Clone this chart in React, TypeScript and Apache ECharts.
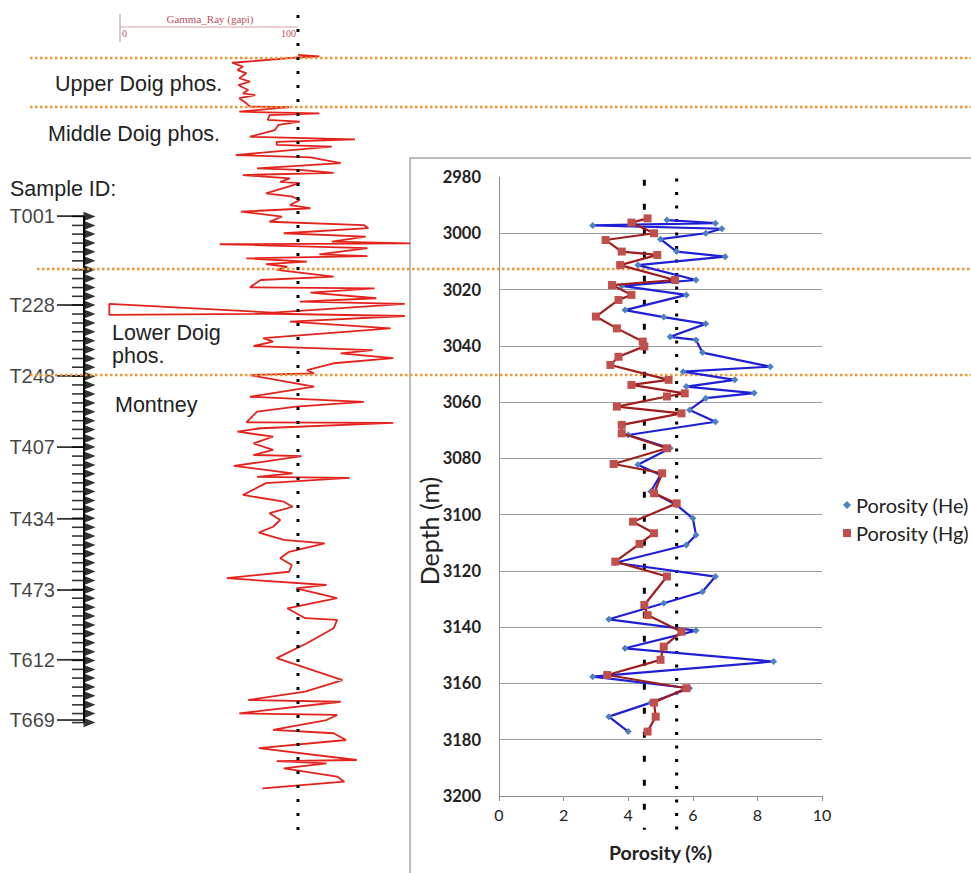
import React, { useEffect, useRef } from "react";
import * as echarts from "echarts";

// ---------- data ----------
const porosityTicks = [0, 2, 4, 6, 8, 10];
const depthGridLines = [3000, 3020, 3040, 3060, 3080, 3100, 3120, 3140, 3160, 3180];

const heDepths = [2995.3, 2996.4, 2997.2, 2998.4, 3000, 3002.1, 3006.5, 3008.3, 3011.3, 3016.6, 3018.7, 3021.9, 3027.3, 3029.8, 3032.2, 3036.8, 3037.9, 3042.4, 3047.4, 3049.2, 3052.1, 3054.5, 3056.8, 3058.6, 3062.8, 3067, 3071.7, 3076.4, 3082.3, 3085.9, 3091.8, 3096.6, 3101.3, 3107.2, 3110.8, 3117.1, 3122, 3127.4, 3131.5, 3137.2, 3141.2, 3147.5, 3152.2, 3157.6, 3161.7, 3166.8, 3171.8, 3177.1];
const heValues = [5.2, 6.7, 2.9, 6.9, 6.4, 5.0, 5.5, 7.0, 4.3, 6.1, 3.8, 5.8, 3.9, 5.1, 6.4, 5.3, 6.1, 6.3, 8.4, 5.7, 7.3, 5.8, 7.9, 6.4, 5.9, 6.7, 4.0, 5.3, 4.3, 5.0, 4.7, 5.5, 6.0, 6.1, 5.8, 3.6, 6.7, 6.3, 5.1, 3.4, 6.1, 3.9, 8.5, 2.9, 5.9, 4.7, 3.4, 4.0];

const hgDepths = [2994.7, 2996.2, 3000, 3002.4, 3006.5, 3007.7, 3011.3, 3016.6, 3018.4, 3021.9, 3023.7, 3029.6, 3033.8, 3038.5, 3040.2, 3043.9, 3046.8, 3052.1, 3053.9, 3056.9, 3058, 3061.6, 3064, 3068.1, 3071.1, 3076.4, 3082, 3085.3, 3092.4, 3096, 3102.5, 3106.6, 3110.4, 3116.7, 3122, 3132.1, 3135.7, 3141.6, 3146.9, 3151.6, 3157, 3161.7, 3166.8, 3171.8, 3177.1];
const hgValues = [4.6, 4.1, 4.8, 3.3, 3.8, 4.9, 3.75, 5.45, 3.5, 4.1, 3.7, 3.0, 3.65, 4.45, 4.5, 3.7, 3.45, 5.25, 4.1, 5.75, 5.2, 3.65, 5.65, 3.8, 3.8, 5.2, 3.55, 5.05, 4.8, 5.5, 4.15, 4.8, 4.35, 3.6, 5.2, 4.5, 4.6, 5.65, 5.1, 5.0, 3.35, 5.8, 4.8, 4.85, 4.6];

const gammaDepths = [2936.6, 2937.1, 2937.5, 2939.4, 2940.8, 2942, 2943.1, 2944.9, 2946.1, 2947.3, 2949.1, 2950.3, 2950.9, 2952, 2953.8, 2955, 2955.2, 2956.8, 2957.4, 2958, 2959.7, 2960.3, 2961.5, 2963.3, 2965.7, 2966.6, 2967.5, 2968.6, 2969.2, 2972.2, 2973, 2975.1, 2976.9, 2977.5, 2978.5, 2979.3, 2980.5, 2981.7, 2982.2, 2985.8, 2987, 2988.2, 2990, 2991.1, 2992.3, 2994.1, 2995.9, 2997.1, 2998.2, 3000, 3001.2, 3003, 3003.6, 3003.9, 3005.3, 3007.5, 3008.1, 3008.9, 3010.1, 3011, 3011.9, 3013, 3015.4, 3016.6, 3019.2, 3019.6, 3021.1, 3023.1, 3024.3, 3025.1, 3028.2, 3025.1, 3029, 3028.6, 3029.4, 3031.4, 3033.8, 3037.3, 3038.5, 3040.1, 3041.5, 3042.7, 3044.4, 3046.2, 3048.6, 3049.8, 3050.4, 3054.5, 3058.1, 3059.9, 3061.6, 3063.4, 3067.2, 3067.4, 3069.3, 3070.5, 3072.3, 3074.7, 3077, 3078.8, 3079.2, 3082.7, 3085.3, 3086.6, 3086.9, 3088.8, 3093, 3095.4, 3097.2, 3099.5, 3101.9, 3104.3, 3106.4, 3109, 3110.2, 3113.2, 3115.5, 3117.9, 3120.3, 3122.6, 3125, 3126.2, 3129.7, 3133.3, 3136.8, 3137.4, 3140.4, 3145.7, 3151, 3158.8, 3162.9, 3165.9, 3166.5, 3170.6, 3171.2, 3173, 3176.5, 3177.7, 3180.1, 3183, 3187.2, 3187.6, 3188.4, 3190.2, 3193.1, 3194.9, 3197.3];
const gammaValues = [100, 112, 100, 63, 69, 66, 71, 67, 73, 66.5, 72, 69, 76, 67, 71, 73, 95, 67, 112, 84, 83, 101, 89, 87, 73, 132, 88, 88, 119, 65, 107, 124, 77, 101, 120, 69, 95.5, 90, 101, 82, 97, 101, 95.5, 107, 68, 91, 84, 137, 139.5, 92, 138, 119, 163, 56, 139, 112, 139, 71, 105, 82, 94, 88, 120, 79, 73, 143, 107, 144, 101, 160, 86, -6, -6, 86, 160, 95.5, 152, 80.5, 86, 75, 142, 124, 153.5, 120, 105, 109, 73, 109, 73, 137, 99, 77, 71, 153.5, 79, 66, 86, 75, 86, 75, 102, 64, 97, 77, 129, 82, 69, 92, 97, 84, 90, 86, 78, 92, 115, 95, 90, 96.5, 95, 60, 116, 99, 122, 94, 104, 122, 120, 105, 88, 125, 104, 72, 124, 67, 122, 116, 86, 120, 127, 78, 133, 88, 116, 92, 122, 126, 80];

const sampleDepths = [2994, 2997.2, 3000.3, 3003.5, 3006.6, 3009.8, 3013, 3016.1, 3019.3, 3022.4, 3025.5, 3028.7, 3031.9, 3035, 3038.2, 3041.3, 3044.5, 3047.6, 3050.8, 3053.9, 3057.1, 3060.3, 3063.4, 3066.6, 3069.7, 3072.9, 3076, 3079.2, 3082.4, 3085.5, 3088.7, 3091.8, 3095, 3098.1, 3101.3, 3104.5, 3107.6, 3110.8, 3113.9, 3117.1, 3120.2, 3123.4, 3126.6, 3129.7, 3132.9, 3136, 3139.2, 3142.3, 3145.5, 3148.7, 3151.8, 3155, 3158.1, 3161.3, 3164.4, 3167.6, 3170.7, 3173.9];
const sampleLabels = ["T001", "T228", "T248", "T407", "T434", "T473", "T612", "T669"];
const sampleLabelDepths = [2993.9, 3025.5, 3050.7, 3076, 3101.5, 3126.8, 3151.6, 3173];

const boundaryDepths = [2937.7, 2955.1, 3012.7, 3050.4];
const heCutoff = 5.5;
const hgCutoff = 4.5;
const gammaCutoff = 100;
const gammaScaleTicks = ["0", "100"];

// ---------- layout ----------
const pxPerM = 619 / 220;
const pageDepthMin = 2920;
const pageTop = 177 - (2980 - pageDepthMin) * pxPerM;
const pageHeight = 796 - pageTop;
const gammaPxPerUnit = 1.78;
const gammaMin = -10;
const gammaMax = 180;
const boundaryStartX = [30, 30, 37, 30];

export default function App() {
  const ref = useRef<HTMLDivElement>(null);
  useEffect(() => {
    if (!ref.current) return;
    const chart = echarts.init(ref.current, undefined, { renderer: "svg" });
    const sans = '"Liberation Sans", Arial, sans-serif';
    const cal = 'Lato, "Open Sans", sans-serif';
    const serif = '"Liberation Serif", serif';
    const pageAxisY = (gi: number) => ({
      gridIndex: gi, type: "value", min: pageDepthMin, max: 3200, inverse: true, show: false,
    });
    const leftText = (text: string, x: number, y: number, size = 21.5) => ({
      type: "text", x, y,
      style: { text, fontSize: size, fontFamily: sans, fill: "#222", align: "left", verticalAlign: "middle" },
    });
    const option: any = {
      animation: false,
      backgroundColor: "#ffffff",
      grid: [
        { left: 0, top: pageTop, width: 971, height: pageHeight },
        {
          left: 120 + gammaMin * gammaPxPerUnit, top: pageTop,
          width: (gammaMax - gammaMin) * gammaPxPerUnit, height: pageHeight,
        },
        { left: 499, top: 177, width: 323, height: 619 },
      ],
      xAxis: [
        { gridIndex: 0, type: "value", min: 0, max: 971, show: false },
        { gridIndex: 1, type: "value", min: gammaMin, max: gammaMax, show: false },
        {
          gridIndex: 2, type: "value", min: 0, max: 10, interval: 2,
          axisLine: { show: true, lineStyle: { color: "#8c8c8c", width: 1 } },
          axisTick: { show: true, length: 5, lineStyle: { color: "#8c8c8c" } },
          axisLabel: { fontSize: 16, color: "#222", margin: 10, fontFamily: cal, formatter: (v: number) => (porosityTicks.includes(v) ? String(v) : "") },
          splitLine: { show: false },
          name: "Porosity (%)", nameLocation: "middle", nameGap: 46,
          nameTextStyle: { fontSize: 19.5, fontWeight: "bold", color: "#222", fontFamily: cal },
        },
      ],
      yAxis: [
        pageAxisY(0),
        pageAxisY(1),
        {
          gridIndex: 2, type: "value", min: 2980, max: 3200, interval: 20, inverse: true,
          axisLine: { show: true, lineStyle: { color: "#8c8c8c", width: 1 } },
          axisTick: { show: false },
          axisLabel: { fontSize: 16.5, fontWeight: "bold", color: "#222", margin: 18, fontFamily: cal, formatter: (v: number) => String(v) },
          splitLine: { show: false },
        },
      ],
      legend: {
        orient: "vertical", left: 838, top: 490, itemWidth: 8, itemHeight: 8, itemGap: 8,
        textStyle: { fontSize: 20, color: "#222", fontFamily: cal },
        data: [
          { name: "Porosity (He)", icon: "diamond" },
          { name: "Porosity (Hg)", icon: "rect" },
        ],
      },
      graphic: [
        { type: "rect", shape: { x: 410, y: 158, width: 700, height: 800 }, style: { fill: "none", stroke: "#a6a6a6", lineWidth: 1.5 }, z: -1 },
        {
          type: "text", x: 429, y: 531, rotation: Math.PI / 2,
          style: { text: "Depth (m)", fontSize: 25, fontFamily: cal, fill: "#222", align: "center", verticalAlign: "middle" },
        },
        { type: "line", shape: { x1: 120, y1: 14, x2: 120, y2: 42 }, style: { stroke: "#999", lineWidth: 1 } },
        { type: "line", shape: { x1: 120, y1: 27, x2: 298, y2: 27 }, style: { stroke: "#d9a0a0", lineWidth: 1 } },
        { type: "text", x: 210, y: 19, style: { text: "Gamma_Ray (gapi)", fontSize: 11, fontFamily: serif, fill: "#c05060", align: "center", verticalAlign: "middle" } },
        { type: "text", x: 122, y: 33, style: { text: gammaScaleTicks[0], fontSize: 10, fontFamily: serif, fill: "#c05060", align: "left", verticalAlign: "middle" } },
        { type: "text", x: 296, y: 33, style: { text: gammaScaleTicks[1], fontSize: 10, fontFamily: serif, fill: "#c05060", align: "right", verticalAlign: "middle" } },
        leftText("Upper Doig phos.", 55, 84),
        leftText("Middle Doig phos.", 48, 134),
        leftText("Sample ID:", 10, 189),
        leftText("Lower Doig", 112, 333),
        leftText("phos.", 112, 356),
        leftText("Montney", 115, 405),
      ],
      series: [
        {
          type: "line", xAxisIndex: 2, yAxisIndex: 2, data: [], silent: true,
          markLine: {
            silent: true, symbol: "none", label: { show: false },
            lineStyle: { color: "#9a9a9a", width: 1, type: "solid" },
            data: depthGridLines.map((d) => ({ yAxis: d })),
          },
        },
        ...boundaryDepths.map((d, i) => ({
          type: "line", xAxisIndex: 0, yAxisIndex: 0, showSymbol: false, silent: true, z: 4,
          data: [[boundaryStartX[i], d], [971, d]],
          lineStyle: { color: "#ee9636", width: 2.5, type: [2.5, 2.5] },
        })),
        {
          type: "line", xAxisIndex: 1, yAxisIndex: 1, showSymbol: false, clip: false, z: 3,
          data: gammaDepths.map((d, i) => [gammaValues[i], d]),
          lineStyle: { color: "#e3221c", width: 1.8 },
        },
        {
          type: "line", xAxisIndex: 1, yAxisIndex: 1, showSymbol: false, clip: false, z: 5,
          data: [[gammaCutoff, 2922.4], [gammaCutoff, 3215.6]],
          lineStyle: { color: "#000", width: 3, type: [3, 11] },
        },
        {
          type: "line", xAxisIndex: 2, yAxisIndex: 2, showSymbol: false, clip: false, z: 5,
          data: [[hgCutoff, 2981], [hgCutoff, 3212]],
          lineStyle: { color: "#000", width: 3, type: [6, 18] },
        },
        {
          type: "line", xAxisIndex: 2, yAxisIndex: 2, showSymbol: false, clip: false, z: 5,
          data: [[heCutoff, 2980.5], [heCutoff, 3214.5]],
          lineStyle: { color: "#000", width: 3, type: [3, 10.5] },
        },
        {
          name: "Porosity (He)", type: "line", xAxisIndex: 2, yAxisIndex: 2, z: 6,
          data: heDepths.map((d, i) => [heValues[i], d]),
          symbol: "diamond", symbolSize: 7,
          itemStyle: { color: "#4f81bd" },
          lineStyle: { color: "#1f1fd6", width: 2.2 },
        },
        {
          name: "Porosity (Hg)", type: "line", xAxisIndex: 2, yAxisIndex: 2, z: 7,
          data: hgDepths.map((d, i) => [hgValues[i], d]),
          symbol: "rect", symbolSize: 8,
          itemStyle: { color: "#c0504d" },
          lineStyle: { color: "#9e1e1e", width: 2.2 },
        },
        {
          type: "line", xAxisIndex: 0, yAxisIndex: 0, showSymbol: false, silent: true,
          data: [[84, sampleLabelDepths[0]], [84, sampleLabelDepths[sampleLabelDepths.length - 1] + 0.7]],
          lineStyle: { color: "#000", width: 2 },
        },
        {
          type: "scatter", xAxisIndex: 0, yAxisIndex: 0, silent: true,
          data: sampleDepths.map((d) => [89.5, d]),
          symbol: "triangle", symbolRotate: -90, symbolSize: [9.5, 12],
          itemStyle: { color: "#000" },
        },
        {
          type: "scatter", xAxisIndex: 0, yAxisIndex: 0, silent: true,
          data: sampleDepths.map((d) => [78, d]),
          symbol: "rect", symbolSize: [12, 1.6],
          itemStyle: { color: "#000" },
        },
        {
          type: "scatter", xAxisIndex: 0, yAxisIndex: 0, silent: true,
          data: sampleLabelDepths.map((d, i) => ({ value: [70.5, d], name: sampleLabels[i] })),
          symbol: "rect", symbolSize: [27, 1.8],
          itemStyle: { color: "#000" },
          label: {
            show: true, position: "left", distance: 2, formatter: "{b}",
            fontSize: 20, fontFamily: sans, color: "#111",
          },
        },
      ],
    };
    chart.setOption(option);
    return () => chart.dispose();
  }, []);
  return (
    <div
      ref={ref}
      style={{ position: "fixed", left: 0, top: 0, width: 971, height: 873, background: "#fff" }}
    />
  );
}
